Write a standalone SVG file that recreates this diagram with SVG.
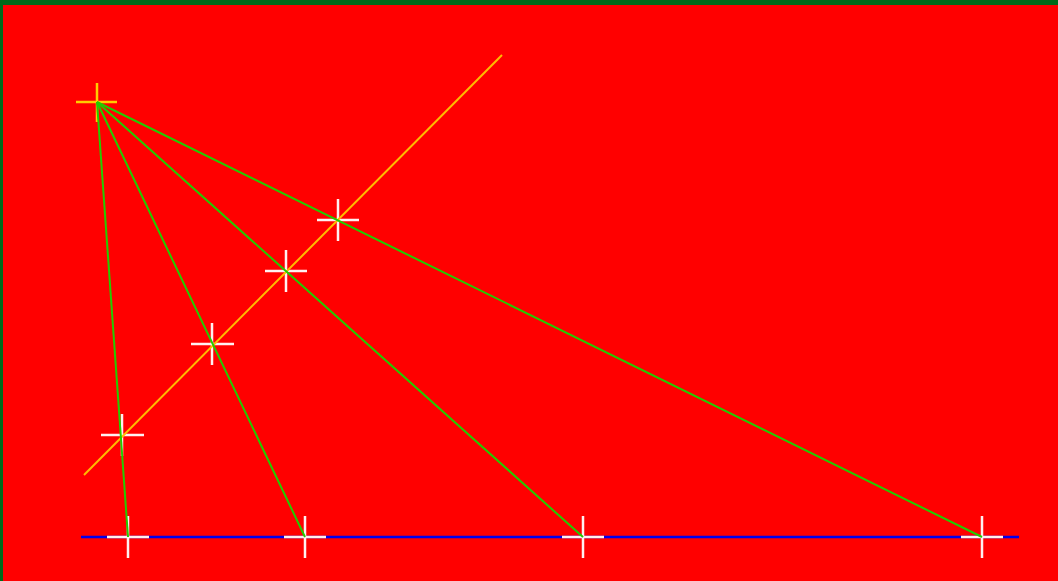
<svg xmlns="http://www.w3.org/2000/svg" width="1058" height="581" viewBox="0 0 1058 581">
<style>
.cross{stroke:#fff0f0;stroke-width:2.5;fill:none}
.ycross{stroke:#ffcc00;stroke-width:2.5;fill:none}
.ray{stroke:#22cc00;stroke-width:2;fill:none}
</style>
<rect x="0" y="0" width="1058" height="581" fill="#006a1a"/>
<rect x="3" y="5" width="1055" height="576" fill="#ff0000"/>
<g id="baseline"><line x1="81" y1="537" x2="1019" y2="537" stroke="#0000ee" stroke-width="2.5"/></g>
<g id="marks">
<path class="cross" d="M107 537H149M128 516V558"/>
<path class="cross" d="M284 537H326M305 516V558"/>
<path class="cross" d="M562 537H604M583 516V558"/>
<path class="cross" d="M961 537H1003M982 516V558"/>
<path class="cross" d="M101 435H144M122 414V456"/>
<path class="cross" d="M191 344H234M212 323V365"/>
<path class="cross" d="M265 271H307M286 250V292"/>
<path class="cross" d="M317 220H359M338 199V241"/>
</g>
<g id="diagonal"><line x1="84" y1="475" x2="502" y2="55" stroke="#ffbb00" stroke-width="2"/></g>
<g id="apex"><path class="ycross" d="M76 102H117M97 83V122"/></g>
<g id="connectors">
<line class="ray" x1="97" y1="102" x2="128" y2="537"/>
<line class="ray" x1="97" y1="102" x2="305" y2="537"/>
<line class="ray" x1="97" y1="102" x2="583" y2="537"/>
<line class="ray" x1="97" y1="102" x2="982" y2="537"/>
</g>
</svg>
